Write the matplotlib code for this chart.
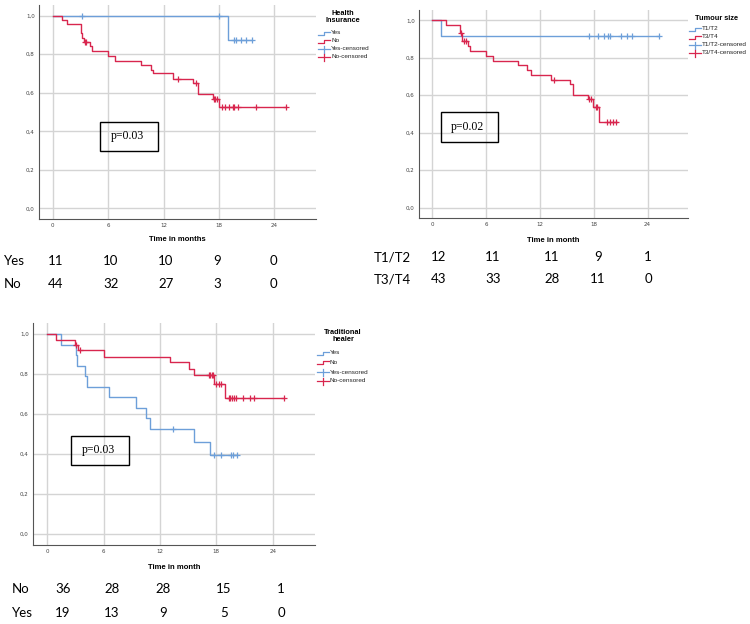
import matplotlib.pyplot as plt
from matplotlib.patches import Rectangle

BLUE = "#6d9fd9"
RED = "#d8264e"
GRID = "#d4d4d4"

# ---- Health insurance (top left)
hi_yes_t = [0, 18.95]
hi_yes_s = [1.0, 0.875]
hi_yes_end = 21.6
hi_yes_cens = [3.2, 18.0, 19.6, 19.8, 20.4, 20.9, 21.6]

hi_no_t = [0, 1.0, 1.55, 3.0, 3.17, 3.35, 4.0, 4.25, 6.0, 6.7, 9.5, 10.6, 10.9,
           13.0, 15.2, 15.7, 17.3, 17.95]
hi_no_s = [1.0, 0.977, 0.955, 0.91, 0.886, 0.864, 0.84, 0.816, 0.79, 0.767, 0.743,
           0.72, 0.70, 0.672, 0.65, 0.595, 0.569, 0.526]
hi_no_end = 25.2
hi_no_cens = [3.45, 3.6, 13.5, 15.5, 17.45, 17.6, 17.8, 18.3, 18.6, 19.1, 19.5,
              19.65, 20.0, 22.0, 25.2]

# ---- Tumour size (top right)
ts_t12_t = [0, 0.93]
ts_t12_s = [1.0, 0.917]
ts_t12_end = 25.3
ts_t12_cens = [17.5, 18.5, 19.1, 19.6, 19.8, 21.0, 21.75, 22.2, 25.3]

ts_t34_t = [0, 1.5, 3.1, 3.35, 4.0, 4.2, 6.0, 6.75, 9.55, 10.55, 11.0, 13.2,
            15.3, 15.7, 17.4, 17.95, 18.6]
ts_t34_s = [1.0, 0.977, 0.933, 0.888, 0.861, 0.835, 0.81, 0.785, 0.76, 0.733,
            0.709, 0.684, 0.659, 0.602, 0.58, 0.536, 0.456]
ts_t34_end = 20.55
ts_t34_cens = [3.15, 3.5, 3.7, 13.6, 17.5, 17.7, 18.2, 18.4, 19.5, 19.8, 20.1, 20.45]

# ---- Traditional healer (bottom left)
th_no_t = [0, 0.96, 3.0, 3.26, 6.0, 13.1, 15.1, 15.6, 17.8, 18.97]
th_no_s = [1.0, 0.972, 0.947, 0.918, 0.885, 0.858, 0.827, 0.797, 0.75, 0.68]
th_no_end = 25.2
th_no_cens = [3.05, 3.45, 17.2, 17.35, 17.5, 17.6, 18.0, 18.3, 18.5, 19.3, 19.5,
              19.7, 19.9, 20.1, 20.8, 21.6, 22.05, 25.2]

th_yes_t = [0, 1.5, 3.1, 3.2, 4.0, 4.2, 6.6, 9.5, 10.5, 10.9, 15.6, 17.3]
th_yes_s = [1.0, 0.947, 0.895, 0.842, 0.789, 0.737, 0.684, 0.632, 0.579, 0.526,
            0.46, 0.395]
th_yes_end = 20.2
th_yes_cens = [13.4, 17.8, 18.5, 19.6, 19.8, 20.2]

# ---- numbers at risk
hi_rows = ["Yes", "No"]
hi_risk = [[11, 10, 10, 9, 0], [44, 32, 27, 3, 0]]
ts_rows = ["T1/T2", "T3/T4"]
ts_risk = [[12, 11, 11, 9, 1], [43, 33, 28, 11, 0]]
th_rows = ["No", "Yes"]
th_risk = [[36, 28, 28, 15, 1], [19, 13, 9, 5, 0]]

x_ticks = [0, 6, 12, 18, 24]
y_ticks = [0.0, 0.2, 0.4, 0.6, 0.8, 1.0]
y_tick_labels = ["0,0", "0,2", "0,4", "0,6", "0,8", "1,0"]

W, H = 750, 624
fig = plt.figure(figsize=(W / 100, H / 100), dpi=100)


def add_px_axes(left, top, right, bottom):
    return fig.add_axes([left / W, 1 - bottom / H, (right - left) / W, (bottom - top) / H])


def surv_at(times, surv, c):
    val = surv[0]
    for t, s in zip(times, surv):
        if t <= c:
            val = s
    return val


def draw_curve(ax, times, surv, end, cens, color):
    ax.step(list(times) + [end], list(surv) + [surv[-1]], where="post",
            color=color, lw=1.0, zorder=3)
    ys = [surv_at(times, surv, c) for c in cens]
    ax.plot(cens, ys, ls="none", marker="+", ms=4, mew=0.9, color=color, zorder=4)


def style_axes(ax, xlabel):
    ax.set_xlim(-1.5, 28.5)
    ax.set_ylim(-0.055, 1.055)
    ax.set_xticks(x_ticks)
    ax.set_xticklabels([str(t) for t in x_ticks])
    ax.set_yticks(y_ticks)
    ax.set_yticklabels(y_tick_labels)
    ax.tick_params(labelsize=4, length=0, pad=3, colors="#444444")
    ax.grid(True, color=GRID, lw=1.0)
    ax.set_axisbelow(True)
    for side in ["top", "right"]:
        ax.spines[side].set_visible(False)
    for side in ["left", "bottom"]:
        ax.spines[side].set_color("#555555")
        ax.spines[side].set_linewidth(0.8)
    ax.set_xlabel(xlabel, fontsize=5.5, fontweight="bold", family="Liberation Sans")
    ax.xaxis.set_label_coords(0.5, -0.098)
    ax.xaxis.label.set_va("center")


ax1 = add_px_axes(39, 5, 316, 219)
draw_curve(ax1, hi_yes_t, hi_yes_s, hi_yes_end, hi_yes_cens, BLUE)
draw_curve(ax1, hi_no_t, hi_no_s, hi_no_end, hi_no_cens, RED)
style_axes(ax1, "Time in months")

ax2 = add_px_axes(419, 10, 688, 218)
draw_curve(ax2, ts_t12_t, ts_t12_s, ts_t12_end, ts_t12_cens, BLUE)
draw_curve(ax2, ts_t34_t, ts_t34_s, ts_t34_end, ts_t34_cens, RED)
style_axes(ax2, "Time in month")
ax2.xaxis.set_label_coords(0.5, -0.106)

ax3 = add_px_axes(33, 323, 315, 545)
draw_curve(ax3, th_yes_t, th_yes_s, th_yes_end, th_yes_cens, BLUE)
draw_curve(ax3, th_no_t, th_no_s, th_no_end, th_no_cens, RED)
style_axes(ax3, "Time in month")
ax3.xaxis.set_label_coords(0.5, -0.10)

# overlay in pixel coordinates for legends, p-boxes and risk tables
ov = fig.add_axes([0, 0, 1, 1])
ov.set_xlim(0, W)
ov.set_ylim(H, 0)
ov.axis("off")


def legend(title, names, x_icon, ys, title_x, title_y):
    ov.text(title_x, title_y, title, ha="center", va="center", fontsize=5.3,
            fontweight="bold", family="Liberation Sans", linespacing=1.1)
    labels = [names[0], names[1], names[0] + "-censored", names[1] + "-censored"]
    colors = [BLUE, RED, BLUE, RED]
    for i, (lab, col, y) in enumerate(zip(labels, colors, ys)):
        if i < 2:
            ov.plot([x_icon, x_icon + 6, x_icon + 6, x_icon + 12],
                    [y + 1.5, y + 1.5, y - 1.5, y - 1.5], color=col, lw=0.9)
        else:
            ov.plot([x_icon, x_icon + 12], [y, y], color=col, lw=0.9)
            ov.plot([x_icon + 6, x_icon + 6], [y - 3.5, y + 3.5], color=col, lw=0.9)
        ov.text(x_icon + 13, y, lab, ha="left", va="center", fontsize=4.6,
                family="Liberation Sans", color="#222222")


legend("Health\nInsurance", ["Yes", "No"], 318, [33, 41, 49, 57], 343, 17)
legend("Tumour size", ["T1/T2", "T3/T4"], 689, [29, 37, 45, 53], 717, 18)
legend("Traditional\nhealer", ["Yes", "No"], 317, [353, 362, 372, 381], 343, 336)


def p_box(text, x0, y0, x1, y1):
    ov.add_patch(Rectangle((x0, y0), x1 - x0, y1 - y0, fill=False, lw=1.0,
                           edgecolor="black"))
    ov.text((x0 + x1) / 2 - 2, (y0 + y1) / 2, text, ha="center", va="center",
            fontsize=8.5, family="Liberation Serif")


p_box("p=0.03", 100, 122, 158, 151)
p_box("p=0.02", 441, 112, 498, 142)
p_box("p=0.03", 71, 436, 129, 465)


def risk_table(rows, values, label_x, cols, ys):
    for name, vals, y in zip(rows, values, ys):
        ov.text(label_x, y, name, ha="left", va="center", fontsize=9.5, family="Lato")
        for v, x in zip(vals, cols):
            ov.text(x, y, str(v), ha="center", va="center", fontsize=9.5, family="Lato")


risk_table(hi_rows, hi_risk, 4, [56, 111, 166, 217, 273], [261, 284])
risk_table(ts_rows, ts_risk, 374, [439, 493, 552, 598, 648], [257, 279])
risk_table(th_rows, th_risk, 12, [63, 112, 163, 224, 281], [589, 613])

fig.savefig("out.png", dpi=100, facecolor="white")
